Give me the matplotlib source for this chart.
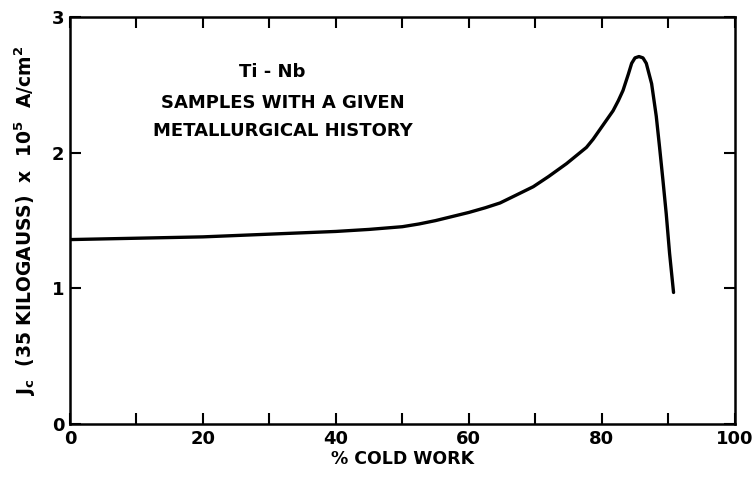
import matplotlib
matplotlib.use('Agg')
import matplotlib.pyplot as plt

# Curve: Jc vs % cold work
cold_work = [0, 10, 20, 30, 40, 45, 50, 52.5, 55, 57.5, 60, 62.5, 64.7, 67,
             69.7, 72, 74.7, 76.2, 77.7, 78.7, 79.7, 80.7, 81.7, 82.5, 83.2,
             84.0, 84.5, 85.0, 85.6, 86.2, 86.7, 87.5, 88.2, 88.7, 89.2, 89.7,
             90.2, 90.8]
jc = [1.36, 1.37, 1.38, 1.40, 1.42, 1.435, 1.455, 1.475, 1.50, 1.53, 1.56,
      1.595, 1.63, 1.685, 1.75, 1.825, 1.92, 1.98, 2.04, 2.10, 2.17, 2.24,
      2.31, 2.385, 2.46, 2.58, 2.66, 2.70, 2.71, 2.70, 2.66, 2.51, 2.27, 2.04,
      1.80, 1.55, 1.26, 0.97]

x_ticks = [0, 20, 40, 60, 80, 100]
x_minor = [10, 30, 50, 70, 90]
y_ticks = [0, 1, 2, 3]

plt.rcParams['font.family'] = 'DejaVu Sans'

fig = plt.figure(figsize=(7.52, 4.78), dpi=100)
ax = fig.add_axes([0.093, 0.113, 0.884, 0.851])

ax.plot(cold_work, jc, color='black', linewidth=2.4, solid_capstyle='round',
        solid_joinstyle='round')

ax.set_xlim(0, 100)
ax.set_ylim(0, 3)
ax.set_xticks(x_ticks)
ax.set_xticks(x_minor, minor=True)
ax.set_yticks(y_ticks)
ax.tick_params(which='both', direction='in', top=True, right=True,
               length=8, width=1.5, labelsize=13, pad=4)
for lab in ax.get_xticklabels() + ax.get_yticklabels():
    lab.set_fontweight('bold')
for s in ax.spines.values():
    s.set_linewidth(1.8)

ax.set_xlabel('% COLD WORK', fontsize=12.5, fontweight='bold', labelpad=2)
ax.set_ylabel(r'J$_\mathbf{c}$  (35 KILOGAUSS)  x  10$^\mathbf{5}$  A/cm$^\mathbf{2}$',
              fontsize=13.5, fontweight='bold', labelpad=10)

ax.text(0.304, 0.865, 'Ti - Nb', transform=ax.transAxes, fontsize=13,
        fontweight='bold', ha='center', va='center')
ax.text(0.32, 0.79, 'SAMPLES WITH A GIVEN', transform=ax.transAxes, fontsize=13,
        fontweight='bold', ha='center', va='center')
ax.text(0.32, 0.72, 'METALLURGICAL HISTORY', transform=ax.transAxes, fontsize=13,
        fontweight='bold', ha='center', va='center')

fig.savefig('out.png', dpi=100)
